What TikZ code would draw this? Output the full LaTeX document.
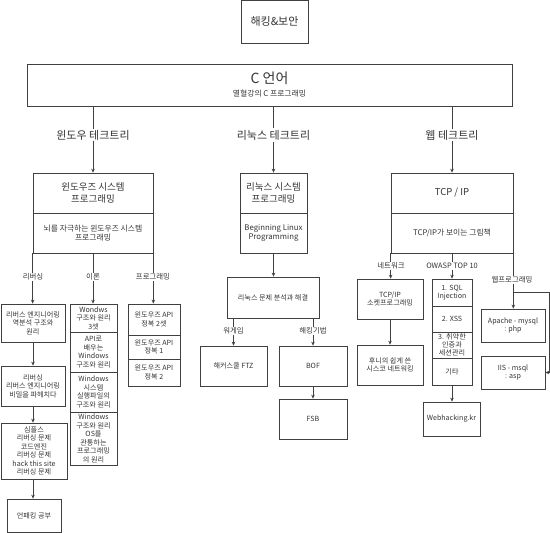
\documentclass[tikz,border=0pt]{standalone}
\usepackage{fontspec}
\setmainfont{Noto Sans CJK KR}
\usetikzlibrary{arrows.meta}
\newcommand\fs{\fontsize{7.1}{8.5}\selectfont}
\newcommand\ft{\fontsize{7.1}{8.1}\selectfont}
\newcommand\fm{\fontsize{7.8}{9.8}\selectfont}
\newcommand\fl{\fontsize{9.5}{12}\selectfont}
\newcommand\fh{\fontsize{11}{13}\selectfont}
\newcommand\boxat[7]{\node[box,#6,minimum width={(#4)-(#2)},minimum height={(#5)-(#3)}] (#1) at ({((#2)+(#4))/2},{-((#3)+(#5))/2}) {#7};}
\tikzset{
  box/.style={draw=black!75, line width=0.7pt, align=center, inner sep=0.3pt, text=black!80, font=\fs},
  lbl/.style={fill=white, inner sep=1pt, text=black!80, font=\fontsize{7.4}{9}\selectfont},
  hdr/.style={fill=white, inner sep=1.5pt, text=black!80, font=\fh},
  conn/.style={draw=black!75, line width=0.7pt},
  arr/.style={conn, -{Stealth[length=4pt,width=3.5pt]}}
}
\begin{document}
\begin{tikzpicture}[x=1pt,y=1pt]
\useasboundingbox (0,0) rectangle (550,-533);
% top
\boxat{hack}{241}{0.5}{308}{43}{font=\fh}{해킹\&보안}
\boxat{cbox}{27}{64}{512}{106}{}{}
\node[text=black!80,font=\fontsize{14}{16}\selectfont] (ctitle) at (269.5,-78) {C 언어};
\node[text=black!80,font=\fontsize{7.8}{9}\selectfont] (csub) at (269.5,-94) {열혈강의 C 프로그래밍};
% system boxes
\boxat{win}{33}{173}{153}{213}{font=\fl}{윈도우즈 시스템\\프로그래밍}
\boxat{winb}{33}{213}{153}{253}{font=\fm}{뇌를 자극하는 윈도우즈 시스템\\프로그래밍}
\boxat{lin}{240}{173}{307}{213}{font=\fl}{리눅스 시스템\\프로그래밍}
\boxat{linb}{240}{213}{307}{253}{font=\fm}{Beginning Linux\\Programming}
\boxat{web}{391}{173}{513}{213}{font=\fl}{TCP / IP}
\boxat{webb}{391}{213}{513}{253}{font=\fm}{TCP/IP가 보이는 그림책}
% C -> system
\draw[arr] (cbox.south -| win.north) -- (win.north);
\draw[arr] (cbox.south -| lin.north) -- (lin.north);
\draw[arr] (cbox.south -| web.north) -- (web.north);
\node[hdr] (hwin) at (93,-135) {윈도우 테크트리};
\node[hdr] (hlin) at (273.5,-135) {리눅스 테크트리};
\node[hdr] (hweb) at (452,-135) {웹 테크트리};
% windows left column
\boxat{wl1}{1}{304}{65}{342}{}{리버스 엔지니어링\\역분석 구조와\\원리}
\boxat{wl2}{1}{366}{65}{406}{}{리버싱\\리버스 엔지니어링\\비밀을 파헤치다}
\boxat{wl3}{1}{423}{67}{479}{}{심플스\\리버싱 문제\\코드엔진\\리버싱 문제\\hack this site\\리버싱 문제}
\boxat{wl4}{7}{499}{61}{532}{}{언패킹 공부}
% windows middle column
\boxat{wm1}{70}{304}{117}{332}{}{Wondws\\구조와 원리\\3셋}
\boxat{wm2}{70}{332}{117}{372}{}{API로\\배우는\\Windows\\구조와 원리}
\boxat{wm3}{70}{372}{117}{412}{}{Windows\\시스템\\실행파일의\\구조와 원리}
\boxat{wm4}{70}{412}{117}{465}{}{Windows\\구조와 원리\\OS를\\관통하는\\프로그래밍\\의 원리}
% windows right column
\boxat{wr1}{128}{304}{180}{335}{}{윈도우즈 API\\정복 2셋}
\boxat{wr2}{128}{335}{180}{359}{}{윈도우즈 API\\정복 1}
\boxat{wr3}{128}{359}{180}{386}{}{윈도우즈 API\\정복 2}
% windows connectors
\draw[arr] (winb.south west) -- (winb.south west |- wl1.north);
\draw[arr] (winb.south) -- (winb.south |- wm1.north);
\draw[arr] (winb.south east) -- (winb.south east |- wr1.north);
\node[lbl] (lrev) at (33,-277) {리버싱};
\node[lbl] (lthe) at (93,-277) {이론};
\node[lbl] (lpro) at (153,-277) {프로그래밍};
\draw[arr] (wl1.south) -- (wl2.north);
\draw[arr] (wl2.south) -- (wl2.south |- wl3.north);
\draw[arr] (wl3.south -| wl2.south) -- (wl2.south |- wl4.north);
% linux
\boxat{prob}{227}{277}{319}{318}{}{리눅스 문제 분석과 해결}
\boxat{ftz}{200}{346}{267}{386}{}{해커스쿨 FTZ}
\boxat{bof}{279}{346}{347}{386}{}{BOF}
\boxat{fsb}{279}{399}{347}{439}{}{FSB}
\draw[arr] (linb.south) -- (linb.south |- prob.north);
\draw[arr] (prob.south -| ftz.north) -- (ftz.north);
\draw[arr] (prob.south -| bof.north) -- (bof.north);
\draw[arr] (bof.south) -- (fsb.north);
\node[lbl] (lwar) at (233.5,-331) {워게임};
\node[lbl] (lhak) at (313,-331) {해킹기법};
% web
\boxat{sock}{357}{279}{423}{319}{}{TCP/IP\\소켓프로그래밍}
\boxat{cisco}{357}{345}{423}{385}{}{후니의 쉽게 쓴\\시스코 네트워킹}
\boxat{ow1}{432}{279}{472}{306}{}{1. SQL\\Injection}
\boxat{ow2}{432}{306}{472}{332}{}{2. XSS}
\boxat{ow3}{432}{332}{472}{358}{font=\ft}{3. 취약한\\인증과\\세션관리}
\boxat{ow4}{432}{358}{472}{385}{}{기타}
\boxat{webk}{423}{402}{480}{436}{}{Webhacking.kr}
\boxat{apache}{481}{309}{545}{342}{}{Apache - mysql\\: php}
\boxat{iis}{481}{356}{545}{389}{}{IIS - msql\\: asp}
\draw[arr] (webb.south west) -- (webb.south west |- sock.north);
\draw[arr] (webb.south) -- (webb.south |- ow1.north);
\draw[arr] (webb.south east) -- (webb.south east |- apache.north);
\coordinate (wbend) at (513,-292);
\draw[arr] (wbend) -- ++(36,0) |- (iis.east);
\draw[arr] (sock.south) -- (cisco.north);
\draw[arr] (ow4.south) -- (ow4.south |- webk.north);
\node[lbl] (lnet) at (391,-266) {네트워크};
\node[lbl] (lowa) at (452,-266) {OWASP TOP 10};
\node[lbl] (lwpr) at (512,-280) {웹프로그래밍};
\end{tikzpicture}
\end{document}
